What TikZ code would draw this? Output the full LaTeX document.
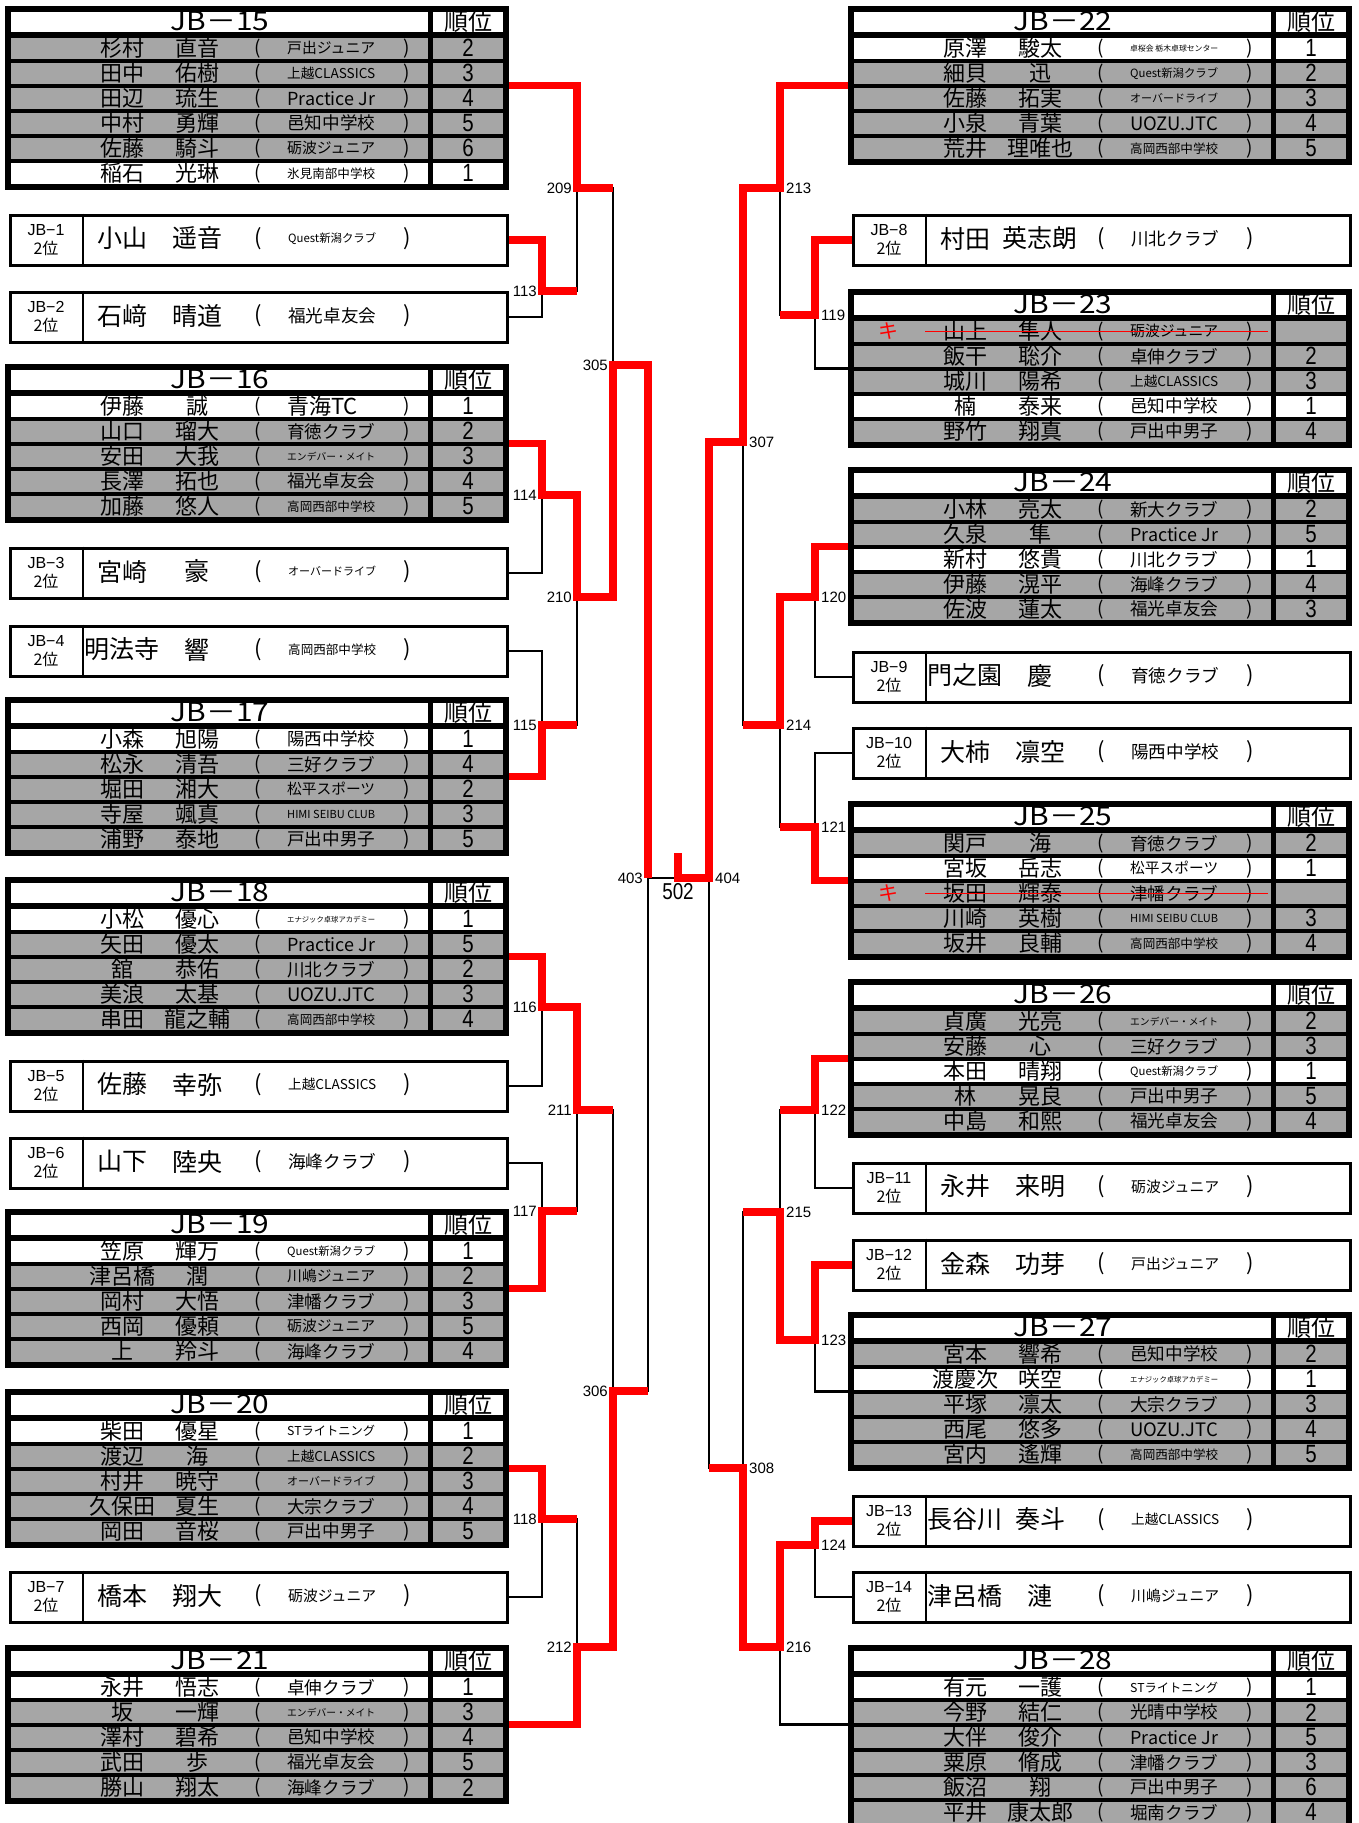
\documentclass[tikz,border=0pt]{standalone}
\usepackage{graphicx}
\usepackage{fontspec}
\setmainfont{Liberation Sans}
\newfontfamily\jp{Noto Sans CJK JP}
\newfontfamily\numfont[FakeStretch=0.82]{Liberation Sans}
\definecolor{rowgrey}{RGB}{166,166,166}

% club names shrink to fit their column
\newsavebox\clubbox
\newcommand\clubfit[1]{\sbox\clubbox{#1}\ifdim\wd\clubbox>88pt\resizebox{88pt}{!}{\usebox\clubbox}\else\usebox\clubbox\fi}

% league table: name, x, y, rows, title, {surname/given/club/rank/fill,...}
\newcommand\grouptable[6]{%
  \node[grpframe, minimum height={34+25*#4}] (#1) at (#2,#3) {};
  \path (#1.north east) ++(0,79.5) coordinate (#1e);
  \path (#1.north west) ++(0,79.5) coordinate (#1w);
  \fill[white] (#2+6,#3+6) rectangle (#2+423,#3+25.5);
  \fill[white] (#2+428,#3+6) rectangle (#2+498,#3+25.5);
  \node[titletext] (#1t) at (#2+215,#3+24.5) {\scalebox{1.15}[1]{#5}};
  \node[headtext] (#1h) at (#2+463,#3+24.5) {順位};
  \foreach \psur/\pgiv/\pclub/\prank/\pfill [count=\i] in {#6} {
    \pgfmathsetmacro\ry{#3+31.5+25*(\i-1)}
    \fill[\pfill] (#2+6,\ry) rectangle (#2+423,\ry+21.5);
    \fill[\pfill] (#2+428,\ry) rectangle (#2+498,\ry+21.5);
    \node[nametext] (#1s\i) at (#2+117,\ry+10.75) {\psur};
    \node[nametext] (#1g\i) at (#2+192,\ry+10.75) {\pgiv};
    \node[parentext] (#1o\i) at (#2+253,\ry+10.75) {(};
    \node[parentext] (#1p\i) at (#2+402,\ry+10.75) {)};
    \node[clubtext] (#1c\i) at (#2+282,\ry+10.75) {\clubfit{\pclub}};
    \node[ranktext] (#1r\i) at (#2+463,\ry+10.75) {\prank};
  }%
}

% runner-up box: name, x, y, id, surname, given, club
\newcommand\runnerbox[7]{%
  \node[boxframe] (#1) at (#2+3.5,#3+1.5) {};
  \draw[divider] ([xshift=74.5pt]#1.north west) -- ([xshift=74.5pt]#1.south west);
  \node[boxid] (#1i) at (#2+41,#3+18) {#4};
  \node[boxid, font=\jp\fontsize{16}{16}\selectfont] (#1k) at (#2+41,#3+36) {2位};
  \node[boxname] (#1s) at (#2+117,#3+26.5) {#5};
  \node[boxname] (#1g) at (#2+192,#3+26.5) {#6};
  \node[boxparen] (#1o) at (#2+253,#3+26.5) {(};
  \node[boxparen] (#1p) at (#2+402,#3+26.5) {)};
  \node[clubtext] (#1c) at (#2+283,#3+26.5) {\clubfit{#7}};
}

\begin{document}
\begin{tikzpicture}[
    x=1pt,y=-1pt,
    grpframe/.style={fill=black,inner sep=0,minimum width=504,anchor=north west},
    boxframe/.style={draw,line width=3pt,fill=white,inner sep=0,minimum width=497,minimum height=50,anchor=north west},
    divider/.style={line width=2pt},
    titletext/.style={font=\jp\fontsize{26}{26}\selectfont,anchor=base,inner sep=0},
    headtext/.style={font=\jp\fontsize{24}{24}\selectfont,anchor=base,inner sep=0},
    nametext/.style={font=\jp\fontsize{22}{22}\selectfont,inner sep=0},
    parentext/.style={font=\jp\fontsize{19}{19}\selectfont,inner sep=0},
    clubtext/.style={font=\jp\fontsize{22}{22}\selectfont,anchor=west,inner sep=0},
    ranktext/.style={font=\numfont\fontsize{25}{25}\selectfont,inner sep=0},
    boxid/.style={font=\fontsize{16}{16}\selectfont,inner sep=0},
    boxname/.style={font=\jp\fontsize{25}{25}\selectfont,inner sep=0},
    boxparen/.style={font=\jp\fontsize{22}{22}\selectfont,inner sep=0},
    matchl/.style={font=\fontsize{15}{15}\selectfont,anchor=east,xshift=-5pt,inner sep=0},
    matchr/.style={font=\fontsize{15}{15}\selectfont,anchor=west,xshift=6pt,inner sep=0},
    finalno/.style={font=\numfont\fontsize{23}{23}\selectfont,anchor=north,yshift=-5pt,inner sep=0},
    lossline/.style={line width=2.5pt},
    winline/.style={draw=red,line width=7.5pt},
    kimark/.style={text=red,font=\jp\fontsize{20}{20}\selectfont,inner sep=0},
    strikeline/.style={draw=red,line width=1.5pt}
  ]
  \useasboundingbox (0,0) rectangle (1358,1823);
  \clip (0,0) rectangle (1358,1823);
  \fill[white] (0,0) rectangle (1358,1823);

  % left column
  \grouptable{jb15}{5}{6}{6}{JB－15}{杉村/直音/戸出ジュニア/2/rowgrey, 田中/佑樹/上越CLASSICS/3/rowgrey, 田辺/琉生/Practice Jr/4/rowgrey, 中村/勇輝/邑知中学校/5/rowgrey, 佐藤/騎斗/砺波ジュニア/6/rowgrey, 稲石/光琳/氷見南部中学校/1/white}
  \runnerbox{jb1}{5}{212}{JB−1}{小山}{遥音}{Quest新潟クラブ}
  \runnerbox{jb2}{5}{289}{JB−2}{石﨑}{晴道}{福光卓友会}
  \grouptable{jb16}{5}{364}{5}{JB－16}{伊藤/誠/青海TC/1/white, 山口/瑠大/育徳クラブ/2/rowgrey, 安田/大我/エンデバー・メイト/3/rowgrey, 長澤/拓也/福光卓友会/4/rowgrey, 加藤/悠人/高岡西部中学校/5/rowgrey}
  \runnerbox{jb3}{5}{545}{JB−3}{宮崎}{豪}{オーバードライブ}
  \runnerbox{jb4}{5}{623}{JB−4}{明法寺}{響}{高岡西部中学校}
  \grouptable{jb17}{5}{697}{5}{JB－17}{小森/旭陽/陽西中学校/1/white, 松永/清吾/三好クラブ/4/rowgrey, 堀田/湘大/松平スポーツ/2/rowgrey, 寺屋/颯真/HIMI SEIBU CLUB/3/rowgrey, 浦野/泰地/戸出中男子/5/rowgrey}
  \grouptable{jb18}{5}{877}{5}{JB－18}{小松/優心/エナジック卓球アカデミー/1/white, 矢田/優太/Practice Jr/5/rowgrey, 舘/恭佑/川北クラブ/2/rowgrey, 美浪/太基/UOZU.JTC/3/rowgrey, 串田/龍之輔/高岡西部中学校/4/rowgrey}
  \runnerbox{jb5}{5}{1058}{JB−5}{佐藤}{幸弥}{上越CLASSICS}
  \runnerbox{jb6}{5}{1135}{JB−6}{山下}{陸央}{海峰クラブ}
  \grouptable{jb19}{5}{1209}{5}{JB－19}{笠原/輝万/Quest新潟クラブ/1/white, 津呂橋/潤/川嶋ジュニア/2/rowgrey, 岡村/大悟/津幡クラブ/3/rowgrey, 西岡/優頼/砺波ジュニア/5/rowgrey, 上/羚斗/海峰クラブ/4/rowgrey}
  \grouptable{jb20}{5}{1389}{5}{JB－20}{柴田/優星/STライトニング/1/white, 渡辺/海/上越CLASSICS/2/rowgrey, 村井/暁守/オーバードライブ/3/rowgrey, 久保田/夏生/大宗クラブ/4/rowgrey, 岡田/音桜/戸出中男子/5/rowgrey}
  \runnerbox{jb7}{5}{1569}{JB−7}{橋本}{翔大}{砺波ジュニア}
  \grouptable{jb21}{5}{1645}{5}{JB－21}{永井/悟志/卓伸クラブ/1/white, 坂/一輝/エンデバー・メイト/3/rowgrey, 澤村/碧希/邑知中学校/4/rowgrey, 武田/歩/福光卓友会/5/rowgrey, 勝山/翔太/海峰クラブ/2/rowgrey}

  % right column
  \grouptable{jb22}{848}{6}{5}{JB－22}{原澤/駿太/卓桜会 栃木卓球センター/1/white, 細貝/迅/Quest新潟クラブ/2/rowgrey, 佐藤/拓実/オーバードライブ/3/rowgrey, 小泉/青葉/UOZU.JTC/4/rowgrey, 荒井/理唯也/高岡西部中学校/5/rowgrey}
  \runnerbox{jb8}{848}{212}{JB−8}{村田}{英志朗}{川北クラブ}
  \grouptable{jb23}{848}{289}{5}{JB－23}{山上/隼人/砺波ジュニア/{}/rowgrey, 飯干/聡介/卓伸クラブ/2/rowgrey, 城川/陽希/上越CLASSICS/3/rowgrey, 楠/泰来/邑知中学校/1/white, 野竹/翔真/戸出中男子/4/rowgrey}
  \grouptable{jb24}{848}{467}{5}{JB－24}{小林/亮太/新大クラブ/2/rowgrey, 久泉/隼/Practice Jr/5/rowgrey, 新村/悠貴/川北クラブ/1/white, 伊藤/滉平/海峰クラブ/4/rowgrey, 佐波/蓮太/福光卓友会/3/rowgrey}
  \runnerbox{jb9}{848}{649}{JB−9}{門之園}{慶}{育徳クラブ}
  \runnerbox{jb10}{848}{725}{JB−10}{大柿}{凛空}{陽西中学校}
  \grouptable{jb25}{848}{801}{5}{JB－25}{関戸/海/育徳クラブ/2/rowgrey, 宮坂/岳志/松平スポーツ/1/white, 坂田/輝泰/津幡クラブ/{}/rowgrey, 川崎/英樹/HIMI SEIBU CLUB/3/rowgrey, 坂井/良輔/高岡西部中学校/4/rowgrey}
  \grouptable{jb26}{848}{979}{5}{JB－26}{貞廣/光亮/エンデバー・メイト/2/rowgrey, 安藤/心/三好クラブ/3/rowgrey, 本田/晴翔/Quest新潟クラブ/1/white, 林/晃良/戸出中男子/5/rowgrey, 中島/和熙/福光卓友会/4/rowgrey}
  \runnerbox{jb11}{848}{1160}{JB−11}{永井}{来明}{砺波ジュニア}
  \runnerbox{jb12}{848}{1237}{JB−12}{金森}{功芽}{戸出ジュニア}
  \grouptable{jb27}{848}{1312}{5}{JB－27}{宮本/響希/邑知中学校/2/rowgrey, 渡慶次/咲空/エナジック卓球アカデミー/1/white, 平塚/凛太/大宗クラブ/3/rowgrey, 西尾/悠多/UOZU.JTC/4/rowgrey, 宮内/遙輝/高岡西部中学校/5/rowgrey}
  \runnerbox{jb13}{848}{1493}{JB−13}{長谷川}{奏斗}{上越CLASSICS}
  \runnerbox{jb14}{848}{1569}{JB−14}{津呂橋}{漣}{川嶋ジュニア}
  \grouptable{jb28}{848}{1645}{6}{JB－28}{有元/一護/STライトニング/1/white, 今野/結仁/光晴中学校/2/rowgrey, 大伴/俊介/Practice Jr/5/rowgrey, 粟原/脩成/津幡クラブ/3/rowgrey, 飯沼/翔/戸出中男子/6/rowgrey, 平井/康太郎/堀南クラブ/4/rowgrey}

  % withdrawn players
  \node[kimark] (jb23k) at (888,331.25) {キ};
  \draw[strikeline] (925,331.25) -- (1268,331.25);
  \node[kimark] (jb25k) at (888,893.25) {キ};
  \draw[strikeline] (925,893.25) -- (1268,893.25);

  % match points
  \coordinate (m113) at (542,291);
  \coordinate (m114) at (542,495);
  \coordinate (m115) at (542,725);
  \coordinate (m116) at (542,1007);
  \coordinate (m117) at (542,1211);
  \coordinate (m118) at (542,1519);
  \coordinate (m209) at (577,188);
  \coordinate (m210) at (577,597);
  \coordinate (m211) at (577,1110);
  \coordinate (m212) at (577,1647);
  \coordinate (m305) at (613,365);
  \coordinate (m306) at (613,1391);
  \coordinate (m403) at (648,878);
  \coordinate (m502) at (678,878);
  \coordinate (m404) at (709,878);
  \coordinate (m307) at (743,442);
  \coordinate (m308) at (743,1468);
  \coordinate (m213) at (780,188);
  \coordinate (m214) at (780,725);
  \coordinate (m215) at (780,1212);
  \coordinate (m216) at (780,1647);
  \coordinate (m119) at (815,315);
  \coordinate (m120) at (815,597);
  \coordinate (m121) at (815,827);
  \coordinate (m122) at (815,1110);
  \coordinate (m123) at (815,1340);
  \coordinate (m124) at (815,1545);

  % bracket
  \foreach \a/\b/\m in {jb1.east/jb2.east/m113, jb16e/jb3.east/m114, jb4.east/jb17e/m115,
      jb18e/jb5.east/m116, jb6.east/jb19e/m117, jb20e/jb7.east/m118,
      jb15e/m113/m209, m114/m115/m210, m116/m117/m211, m118/jb21e/m212,
      m209/m210/m305, m211/m212/m306, m305/m306/m403,
      jb8.west/jb23w/m119, jb24w/jb9.west/m120, jb10.west/jb25w/m121,
      jb26w/jb11.west/m122, jb12.west/jb27w/m123, jb13.west/jb14.west/m124,
      jb22w/m119/m213, m120/m121/m214, m122/m123/m215, m124/jb28w/m216,
      m213/m214/m307, m215/m216/m308, m307/m308/m404, m403/m404/m502}
    \draw[lossline] (\a) -| (\m) (\b) -| (\m);

  % winners
  \draw[winline] (jb15e) -| (m209) -- (m209 -| m305);
  \draw[winline] (jb1.east) -| (m113) -- (m113 -| m209);
  \draw[winline] (jb16e) -| (m114) -| (m210) -| (m305) -| (m403);
  \draw[winline] (jb17e) -| (m115) -- (m115 -| m210);
  \draw[winline] (jb18e) -| (m116) -| (m211) -- (m211 -| m306);
  \draw[winline] (jb19e) -| (m117) -- (m117 -| m211);
  \draw[winline] (jb20e) -| (m118) -- (m118 -| m212);
  \draw[winline] (jb21e) -| (m212) -| (m306) -- (m306 -| m403);
  \draw[winline] (jb22w) -| (m213) -| (m307) -| (m404) -- (m502) -- ++(0,-25);
  \draw[winline] (jb8.west) -| (m119) -- (m119 -| m213);
  \draw[winline] (jb24w) -| (m120) -| (m214) -- (m214 -| m307);
  \draw[winline] (jb25w) -| (m121) -- (m121 -| m214);
  \draw[winline] (jb26w) -| (m122) -- (m122 -| m215);
  \draw[winline] (jb12.west) -| (m123) -| (m215) -- (m215 -| m308);
  \draw[winline] (jb13.west) -| (m124) -| (m216) -| (m308) -- (m308 -| m404);

  % match numbers
  \foreach \m in {113,114,115,116,117,118,209,210,211,212,305,306,403}
    \node[matchl] (l\m) at (m\m) {\m};
  \foreach \m in {119,120,121,122,123,124,213,214,215,216,307,308,404}
    \node[matchr] (l\m) at (m\m) {\m};
  \node[finalno] (l502) at (m502) {502};
\end{tikzpicture}
\end{document}
